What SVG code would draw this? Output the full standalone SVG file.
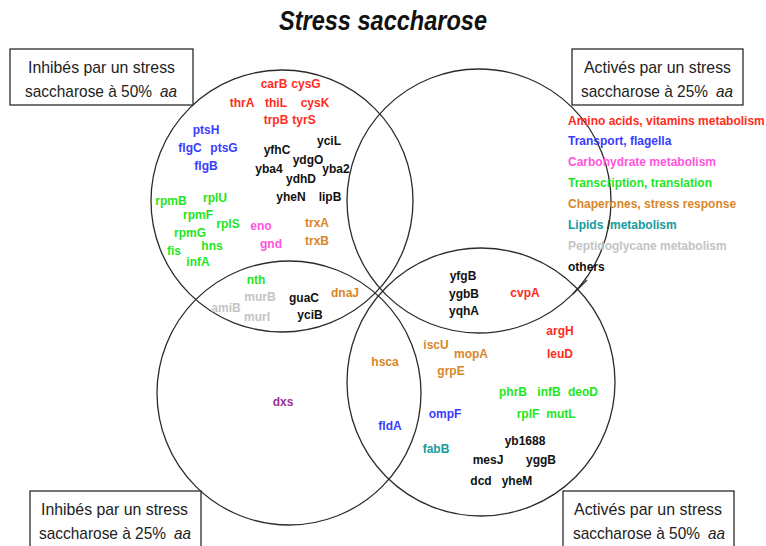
<svg xmlns="http://www.w3.org/2000/svg" width="766" height="546" viewBox="0 0 766 546">
<style>
  .circ{fill:none;stroke:#2b2b2b;stroke-width:1.3}
  .box{fill:#fff;stroke:#2b2b2b;stroke-width:1.3}
  .bt{font-family:"Liberation Sans",Arial,sans-serif;font-size:17px;fill:#222}
  .it{font-style:italic}
  .g{font-family:"Liberation Sans",Arial,sans-serif;font-size:12px;font-weight:bold;text-anchor:middle}
  .lg{font-family:"Liberation Sans",Arial,sans-serif;font-size:12px;font-weight:bold}
  .red{fill:#ff2b1c}.blue{fill:#3a3cff}.pink{fill:#ff55dc}.green{fill:#1ee61e}
  .orange{fill:#d8862a}.teal{fill:#159c9c}.gray{fill:#c4c4c4}.blk{fill:#111}.purple{fill:#993399}
  .title{font-family:"Liberation Sans",Arial,sans-serif;font-size:27px;font-weight:bold;font-style:italic;fill:#111;text-anchor:middle}
</style>
<rect width="766" height="546" fill="#fff"/>
<text class="title" x="383" y="30" textLength="208" lengthAdjust="spacingAndGlyphs">Stress saccharose</text>

<g id="circle-inhib50"><circle class="circ" cx="282" cy="201" r="131"/></g>
<g id="circle-activ25"><circle class="circ" cx="479" cy="201" r="132"/></g>
<g id="circle-inhib25"><circle class="circ" cx="289" cy="393" r="132"/></g>
<g id="circle-activ50"><circle class="circ" cx="481" cy="382" r="134"/></g>

<g id="connectors">
  <line x1="587" y1="280" x2="573" y2="294" stroke="#2b2b2b" stroke-width="1.3"/>
</g>

<g id="box-inhib50">
  <rect class="box" x="10" y="49" width="183" height="56"/>
  <text class="bt" x="28" y="73" textLength="147" lengthAdjust="spacingAndGlyphs">Inhibés par un stress</text>
  <text class="bt" x="25" y="97" textLength="127" lengthAdjust="spacingAndGlyphs">saccharose à 50%</text>
  <text class="bt it" x="160" y="97" textLength="17" lengthAdjust="spacingAndGlyphs">aa</text>
</g>
<g id="box-activ25">
  <rect class="box" x="572" y="49" width="171" height="56"/>
  <text class="bt" x="584" y="73" textLength="147" lengthAdjust="spacingAndGlyphs">Activés par un stress</text>
  <text class="bt" x="581" y="97" textLength="127" lengthAdjust="spacingAndGlyphs">saccharose à 25%</text>
  <text class="bt it" x="716" y="97" textLength="17" lengthAdjust="spacingAndGlyphs">aa</text>
</g>
<g id="box-inhib25">
  <rect class="box" x="30" y="491" width="171" height="60"/>
  <text class="bt" x="41" y="515" textLength="147" lengthAdjust="spacingAndGlyphs">Inhibés par un stress</text>
  <text class="bt" x="39" y="539" textLength="127" lengthAdjust="spacingAndGlyphs">saccharose à 25%</text>
  <text class="bt it" x="174" y="539" textLength="17" lengthAdjust="spacingAndGlyphs">aa</text>
</g>
<g id="box-activ50">
  <rect class="box" x="563" y="491" width="171" height="60"/>
  <text class="bt" x="574" y="515" textLength="148" lengthAdjust="spacingAndGlyphs">Activés par un stress</text>
  <text class="bt" x="573" y="539" textLength="127" lengthAdjust="spacingAndGlyphs">saccharose à 50%</text>
  <text class="bt it" x="708" y="539" textLength="17" lengthAdjust="spacingAndGlyphs">aa</text>
</g>

<g id="legend">
  <text class="lg red" x="568" y="124.5">Amino acids, vitamins metabolism</text>
  <text class="lg blue" x="568" y="145">Transport, flagella</text>
  <text class="lg pink" x="568" y="166">Carbohydrate metabolism</text>
  <text class="lg green" x="568" y="187">Transcription, translation</text>
  <text class="lg orange" x="568" y="208">Chaperones, stress response</text>
  <text class="lg teal" x="568" y="229">Lipids <tspan fill="#1d3d30">/</tspan>metabolism</text>
  <text class="lg gray" x="568" y="250">Peptidoglycane metabolism</text>
  <text class="lg blk" x="568" y="271">others</text>
</g>

<g id="genes-inhib50">
  <text class="g red" x="274" y="88">carB</text>
  <text class="g red" x="306" y="88">cysG</text>
  <text class="g red" x="242" y="107">thrA</text>
  <text class="g red" x="276" y="107">thiL</text>
  <text class="g red" x="315" y="107">cysK</text>
  <text class="g red" x="276" y="124">trpB</text>
  <text class="g red" x="304" y="124">tyrS</text>
  <text class="g blue" x="206" y="134">ptsH</text>
  <text class="g blue" x="190" y="152">flgC</text>
  <text class="g blue" x="224" y="152">ptsG</text>
  <text class="g blue" x="206" y="170">flgB</text>
  <text class="g blk" x="329" y="145">yciL</text>
  <text class="g blk" x="277" y="154">yfhC</text>
  <text class="g blk" x="308" y="164">ydgO</text>
  <text class="g blk" x="269" y="173">yba4</text>
  <text class="g blk" x="336" y="173">yba2</text>
  <text class="g blk" x="301" y="183">ydhD</text>
  <text class="g blk" x="291" y="201">yheN</text>
  <text class="g blk" x="330" y="201">lipB</text>
  <text class="g green" x="171" y="205">rpmB</text>
  <text class="g green" x="215" y="202">rplU</text>
  <text class="g green" x="198" y="219">rpmF</text>
  <text class="g green" x="228" y="228">rplS</text>
  <text class="g green" x="190" y="237">rpmG</text>
  <text class="g green" x="212" y="250">hns</text>
  <text class="g green" x="174" y="255">fis</text>
  <text class="g green" x="198" y="266">infA</text>
  <text class="g pink" x="261" y="230">eno</text>
  <text class="g pink" x="271" y="248">gnd</text>
  <text class="g orange" x="317" y="227">trxA</text>
  <text class="g orange" x="317" y="245">trxB</text>
</g>

<g id="genes-inhib50-inhib25">
  <text class="g green" x="256" y="284">nth</text>
  <text class="g gray" x="260" y="301">murB</text>
  <text class="g gray" x="226" y="312">amiB</text>
  <text class="g gray" x="257" y="321">murI</text>
  <text class="g blk" x="304" y="302">guaC</text>
  <text class="g blk" x="310" y="319">yciB</text>
  <text class="g orange" x="345" y="297">dnaJ</text>
</g>

<g id="genes-inhib25">
  <text class="g purple" x="283" y="406">dxs</text>
</g>

<g id="genes-activ25-activ50">
  <text class="g blk" x="463" y="280">yfgB</text>
  <text class="g blk" x="464" y="297.5">ygbB</text>
  <text class="g blk" x="464" y="315">yqhA</text>
  <text class="g red" x="525" y="297">cvpA</text>
</g>

<g id="genes-inhib25-activ50">
  <text class="g orange" x="385" y="366">hsca</text>
  <text class="g blue" x="390" y="430">fldA</text>
</g>

<g id="genes-activ50">
  <text class="g red" x="560" y="335">argH</text>
  <text class="g red" x="560" y="357.5">leuD</text>
  <text class="g orange" x="436" y="349">iscU</text>
  <text class="g orange" x="471" y="358">mopA</text>
  <text class="g orange" x="451" y="375">grpE</text>
  <text class="g green" x="513" y="396">phrB</text>
  <text class="g green" x="549" y="396">infB</text>
  <text class="g green" x="583" y="396">deoD</text>
  <text class="g green" x="528" y="417.5">rplF</text>
  <text class="g green" x="561" y="417.5">mutL</text>
  <text class="g blue" x="445" y="417.5">ompF</text>
  <text class="g teal" x="436" y="453">fabB</text>
  <text class="g blk" x="525" y="445">yb1688</text>
  <text class="g blk" x="488" y="464">mesJ</text>
  <text class="g blk" x="541" y="464">yggB</text>
  <text class="g blk" x="481" y="485">dcd</text>
  <text class="g blk" x="517" y="485">yheM</text>
</g>
</svg>
